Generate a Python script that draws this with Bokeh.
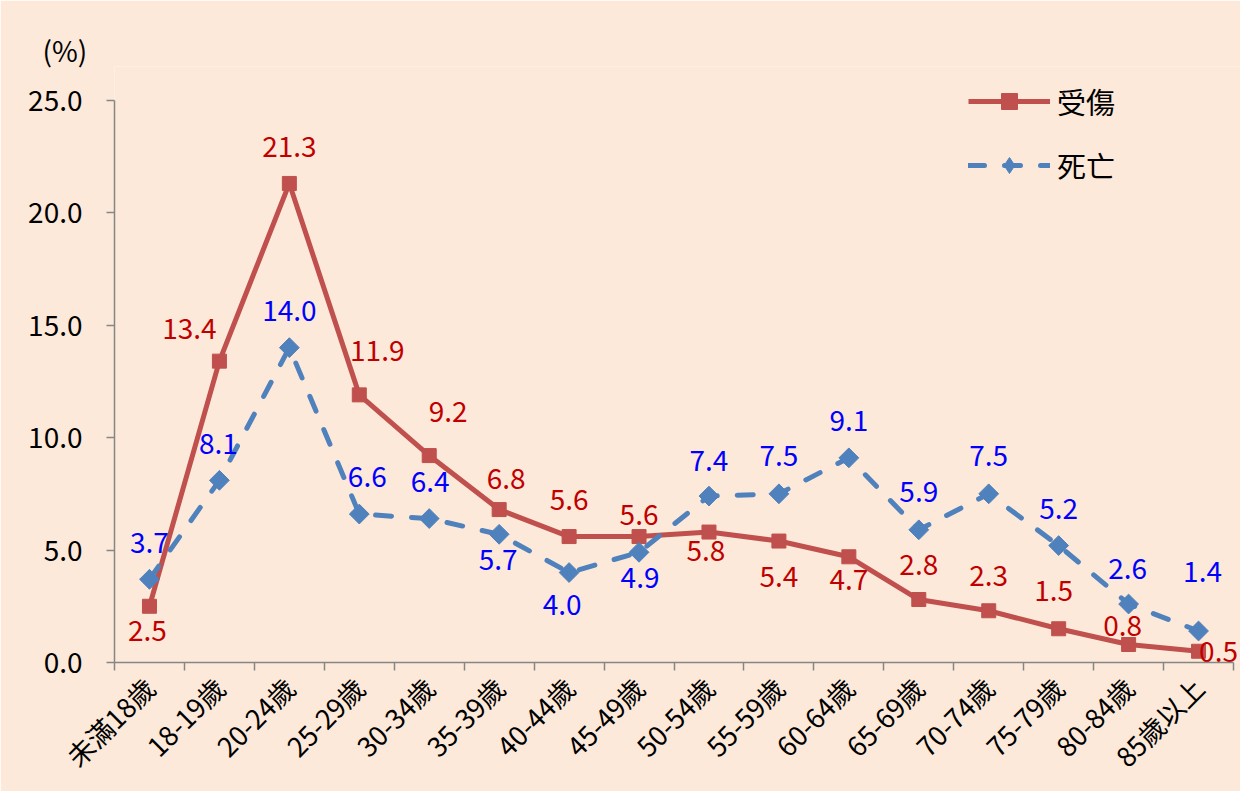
from bokeh.plotting import figure
from bokeh.models import (ColumnDataSource, FixedTicker, NumeralTickFormatter, Range1d,
                          Legend, LegendItem, LinearAxis, CDSView, IndexFilter)
from bokeh.core.properties import value
from bokeh.embed import file_html
from bokeh.resources import INLINE
import math

# ---------------- data ----------------
categories = ["未滿18歲", "18-19歲", "20-24歲", "25-29歲", "30-34歲", "35-39歲", "40-44歲",
              "45-49歲", "50-54歲", "55-59歲", "60-64歲", "65-69歲", "70-74歲", "75-79歲",
              "80-84歲", "85歲以上"]
injured = [2.5, 13.4, 21.3, 11.9, 9.2, 6.8, 5.6, 5.6, 5.8, 5.4, 4.7, 2.8, 2.3, 1.5, 0.8, 0.5]
deaths = [3.7, 8.1, 14.0, 6.6, 6.4, 5.7, 4.0, 4.9, 7.4, 7.5, 9.1, 5.9, 7.5, 5.2, 2.6, 1.4]
y_ticks = [0, 5, 10, 15, 20, 25]
series_names = ["受傷", "死亡"]

# ---------------- label placement (pixels) ----------------
inj_dx = [-2, -30, 0, 18, 19, 7, 0, 0, -3, 0, 0, 0, 0, -5, -6, 20]
inj_dy = [24, -33, -37, -44, -44, -31, -37, -22, 18, 35, 23, -35, -35, -38, -19, 0]
dea_dx = [0, -1, 0, 8, 1, -1, -7, 1, 0, 0, 0, 0, 0, 0, -1, 4]
dea_dy = [-37, -37, -37, -38, -37, 25, 32, 25, -36, -38, -37, -38, -38, -37, -36, -60]

BG = "#FDE9D9"
RED = "#C0504D"
BLUE = "#4F81BD"
FONT = "Noto Sans CJK TC"
n = len(categories)
xs = [i + 0.5 for i in range(n)]

src_inj = ColumnDataSource(dict(x=xs, y=injured, t=[f"{v:.1f}" for v in injured], dx=inj_dx, dy=inj_dy))
src_dea = ColumnDataSource(dict(x=xs, y=deaths, t=[f"{v:.1f}" for v in deaths], dx=dea_dx, dy=dea_dy))

W, H = 1240, 791
p = figure(width=W, height=H, x_range=Range1d(0, n + 0.1), y_range=Range1d(0, 26.5),
           output_backend="svg", toolbar_location=None, x_axis_type=None, y_axis_type=None,
           min_border_left=114, min_border_right=0, min_border_top=66, min_border_bottom=127)
p.background_fill_color = BG
p.border_fill_color = BG
p.outline_line_color = None
p.xgrid.visible = False
p.ygrid.visible = False

p.title.text = "(%)"
p.title.align = "left"
p.title.offset = -72
p.title.standoff = -6
p.title.text_font = FONT
p.title.text_font_size = "28px"
p.title.text_font_style = "normal"
p.title.text_color = "black"

# y axis
yax = LinearAxis(ticker=FixedTicker(ticks=y_ticks, minor_ticks=[]),
                 formatter=NumeralTickFormatter(format="0.0"), bounds=(0, 25))
yax.axis_line_color = "#868686"
yax.axis_line_width = 1.5
yax.major_tick_line_color = "#868686"
yax.major_tick_line_width = 1.5
yax.major_tick_in = 0
yax.major_tick_out = 8
yax.minor_tick_line_color = None
yax.major_label_text_font = FONT
yax.major_label_text_font_size = "28px"
yax.major_label_text_color = "black"
yax.major_label_standoff = 24
p.add_layout(yax, "left")

# x axis
xax = LinearAxis(ticker=FixedTicker(ticks=xs, minor_ticks=list(range(n + 1))),
                 major_label_overrides={x: c for x, c in zip(xs, categories)}, bounds=(0, n))
xax.axis_line_color = "#868686"
xax.axis_line_width = 1.5
xax.major_tick_line_color = None
xax.major_tick_in = 0
xax.major_tick_out = 0
xax.minor_tick_line_color = "#868686"
xax.minor_tick_line_width = 1.5
xax.minor_tick_in = 0
xax.minor_tick_out = 8
xax.major_label_orientation = math.pi / 4
xax.major_label_text_font = FONT
xax.major_label_text_font_size = "27px"
xax.major_label_text_color = "black"
xax.major_label_standoff = 12
p.add_layout(xax, "below")

# series
l_inj = p.line("x", "y", source=src_inj, line_color=RED, line_width=5, line_join="round")
m_inj = p.scatter("x", "y", source=src_inj, marker="square", size=14, fill_color=RED, line_color=RED)
l_dea = p.line("x", "y", source=src_dea, line_color=BLUE, line_width=5, line_dash="16 20",
               line_cap="round", line_join="round")
m_dea = p.scatter("x", "y", source=src_dea, marker="square", angle=math.pi / 4, size=14,
                  fill_color=BLUE, line_color=BLUE)
# legend glyph (diamond) for the death series; its single plotted point hides inside the first marker
m_dea_leg = p.scatter("x", "y", source=src_dea, view=CDSView(filter=IndexFilter(indices=[0])),
                      marker="diamond", size=19, fill_color=BLUE, line_color=BLUE)

p.text("x", "y", text="t", source=src_inj, x_offset="dx", y_offset="dy", text_align="center",
       text_baseline="middle", text_color="#C00000", text_font=value(FONT), text_font_size="28px")
p.text("x", "y", text="t", source=src_dea, x_offset="dx", y_offset="dy", text_align="center",
       text_baseline="middle", text_color="#0000FF", text_font=value(FONT), text_font_size="28px")

legend = Legend(items=[LegendItem(label=series_names[0], renderers=[l_inj, m_inj]),
                       LegendItem(label=series_names[1], renderers=[l_dea, m_dea_leg])],
                location=(854, 476), orientation="vertical")
legend.glyph_width = 82
legend.glyph_height = 40
legend.label_height = 40
legend.label_standoff = 7
legend.spacing = 22
legend.padding = 0
legend.margin = 0
legend.border_line_color = None
legend.background_fill_alpha = 0
legend.label_text_font = FONT
legend.label_text_font_size = "29px"
legend.label_text_color = "black"
p.add_layout(legend)

open("out.html", "w").write(file_html(p, INLINE))
